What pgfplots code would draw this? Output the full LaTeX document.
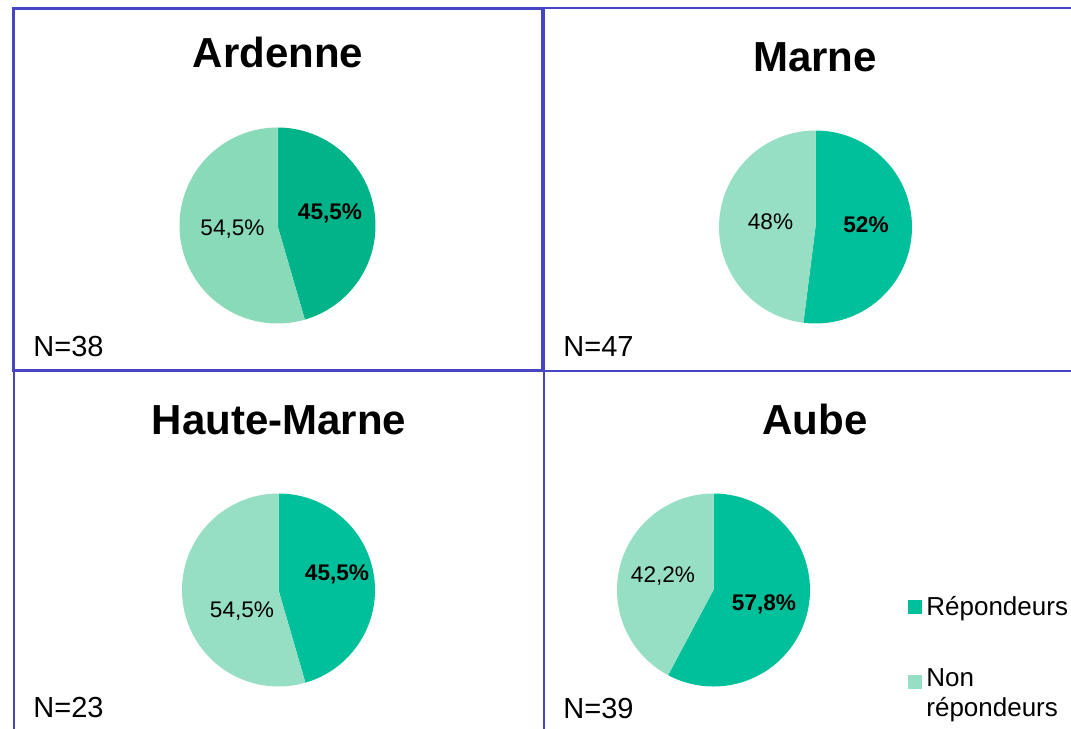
\documentclass[border=0pt]{standalone}
\usepackage{pgfplots}
\pgfplotsset{compat=1.18}
\usepackage{fontspec}
\setmainfont{Liberation Sans}
\definecolor{bordc}{RGB}{70,70,196}
\definecolor{darkA}{RGB}{0,179,136}
\definecolor{lightA}{RGB}{136,218,185}
\definecolor{darkB}{RGB}{0,191,155}
\definecolor{lightB}{RGB}{150,223,196}
% share of "Répondeurs" (percent)
\def\pArd{45.5}
\def\pMar{52}
\def\pHM{45.5}
\def\pAub{57.8}
\begin{document}
\begin{tikzpicture}
\useasboundingbox (0,0) rectangle (535.5bp,364.5bp);
\clip (0,0) rectangle (535.5bp,364.5bp);
\begin{axis}[
  width=535.5bp, height=364.5bp, scale only axis,
  xmin=0, xmax=1071, ymin=0, ymax=729, y dir=reverse,
  hide axis, clip=false,
  legend style={at={(axis cs:908,592)}, anchor=north west, draw=none, fill=none,
    inner sep=0pt, font=\fontsize{13bp}{15bp}\selectfont,
    cells={anchor=west, align=left}, row sep=21bp},
  legend cell align=left,
]
% borders
\draw[bordc, line width=1bp] (axis cs:542,8.5) -- (axis cs:1071,8.5);
\draw[bordc, line width=1bp] (axis cs:543.5,8) -- (axis cs:543.5,729);
\draw[bordc, line width=1bp] (axis cs:13,371) -- (axis cs:1071,371);
\draw[bordc, line width=1bp] (axis cs:14,371) -- (axis cs:14,729);
\draw[bordc, line width=1.5bp] (axis cs:13,9) rectangle (axis cs:542,370);

% Ardenne
\addplot[draw=none, fill=darkA, domain=90:90-3.6*\pArd, samples=120, forget plot]
  ({277.5+98*cos(x)},{225.5-98*sin(x)}) -- (axis cs:277.5,225.5) -- cycle;
\addplot[draw=none, fill=lightA, domain=90-3.6*\pArd:-270, samples=120, forget plot]
  ({277.5+98*cos(x)},{225.5-98*sin(x)}) -- (axis cs:277.5,225.5) -- cycle;
% Marne
\addplot[draw=none, fill=darkB, domain=90:90-3.6*\pMar, samples=120, forget plot]
  ({815.5+96.5*cos(x)},{227-96.5*sin(x)}) -- (axis cs:815.5,227) -- cycle;
\addplot[draw=none, fill=lightB, domain=90-3.6*\pMar:-270, samples=120, forget plot]
  ({815.5+96.5*cos(x)},{227-96.5*sin(x)}) -- (axis cs:815.5,227) -- cycle;
% Haute-Marne
\addplot[draw=none, fill=darkB, domain=90:90-3.6*\pHM, samples=120, forget plot]
  ({278.5+96.5*cos(x)},{590-96.5*sin(x)}) -- (axis cs:278.5,590) -- cycle;
\addplot[draw=none, fill=lightB, domain=90-3.6*\pHM:-270, samples=120, forget plot]
  ({278.5+96.5*cos(x)},{590-96.5*sin(x)}) -- (axis cs:278.5,590) -- cycle;
% Aube
\addplot[draw=none, fill=darkB, domain=90:90-3.6*\pAub, samples=120, forget plot]
  ({713.5+96.5*cos(x)},{590-96.5*sin(x)}) -- (axis cs:713.5,590) -- cycle;
\addplot[draw=none, fill=lightB, domain=90-3.6*\pAub:-270, samples=120, forget plot]
  ({713.5+96.5*cos(x)},{590-96.5*sin(x)}) -- (axis cs:713.5,590) -- cycle;

% legend
\addlegendimage{legend image code/.code={\fill[darkB, draw=none] (0bp,-3.5bp) rectangle (7bp,3.5bp);}}
\addlegendentry{Répondeurs}
\addlegendimage{legend image code/.code={\fill[lightB, draw=none] (0bp,2.5bp) rectangle (7bp,9.5bp);
   \path[draw=none, fill=none] (0bp,-9.5bp) rectangle (7bp,9.5bp);}}
\addlegendentry{Non\\répondeurs}

% titles
\tikzset{ttl/.style={anchor=base, inner sep=0pt, font=\fontsize{21bp}{24bp}\selectfont\bfseries},
  pct/.style={anchor=base, inner sep=0pt, font=\fontsize{11.3bp}{13bp}\selectfont},
  nn/.style={anchor=base west, inner sep=0pt, font=\fontsize{14.5bp}{17bp}\selectfont}}
\node[ttl] at (axis cs:278,67) {Ardenne};
\node[ttl] at (axis cs:815,71) {Marne};
\node[ttl] at (axis cs:279,434) {Haute-Marne};
\node[ttl] at (axis cs:815,434) {Aube};

\node[pct, font=\fontsize{11.3bp}{13bp}\selectfont\bfseries] at (axis cs:330,219) {45,5\%};
\node[pct] at (axis cs:232.5,235) {54,5\%};
\node[pct] at (axis cs:770.5,229) {48\%};
\node[pct, font=\fontsize{11.3bp}{13bp}\selectfont\bfseries] at (axis cs:866,232) {52\%};
\node[pct, font=\fontsize{11.3bp}{13bp}\selectfont\bfseries] at (axis cs:337,580) {45,5\%};
\node[pct] at (axis cs:242,617) {54,5\%};
\node[pct] at (axis cs:663,582) {42,2\%};
\node[pct, font=\fontsize{11.3bp}{13bp}\selectfont\bfseries] at (axis cs:764,610) {57,8\%};

\node[nn] at (axis cs:33,356) {N=38};
\node[nn] at (axis cs:563,356) {N=47};
\node[nn] at (axis cs:33,717) {N=23};
\node[nn] at (axis cs:563,718) {N=39};
\end{axis}
\end{tikzpicture}
\end{document}
